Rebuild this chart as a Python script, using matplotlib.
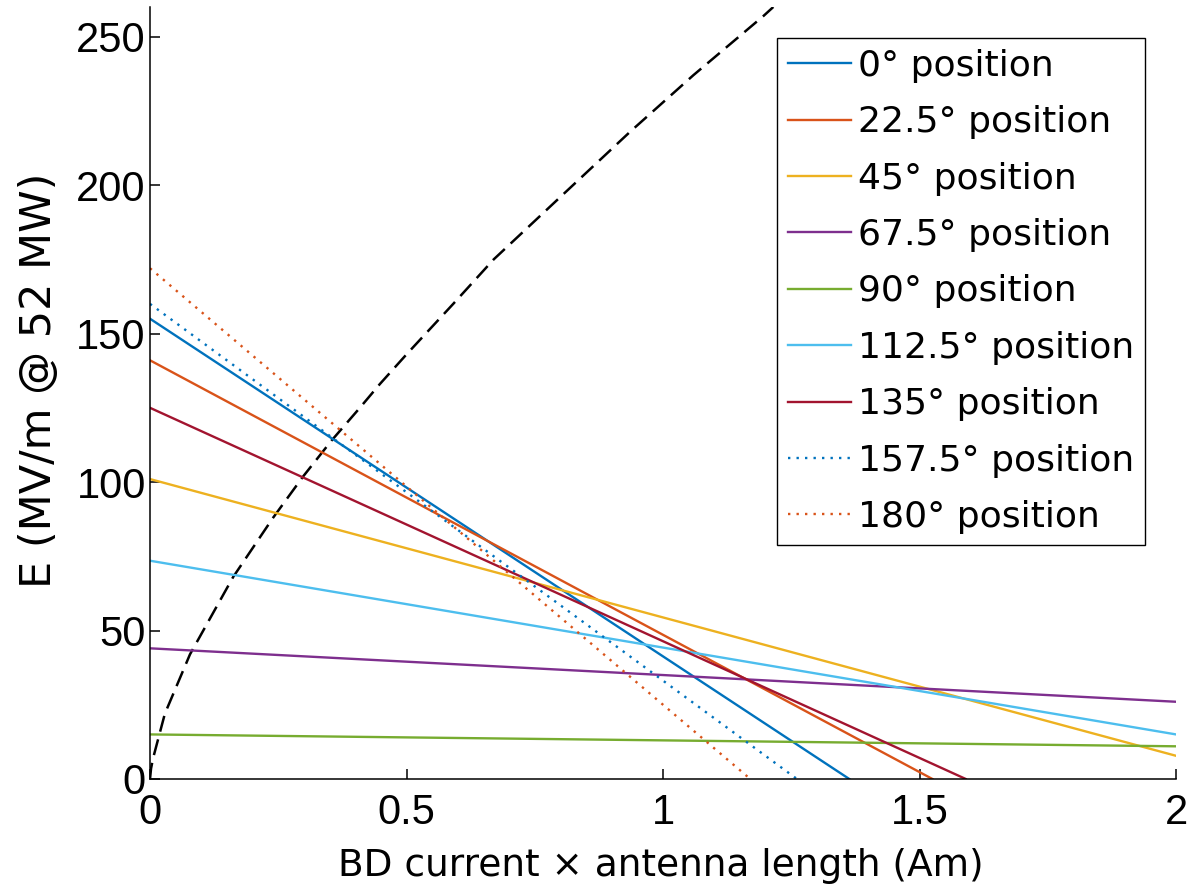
import matplotlib
matplotlib.use('Agg')
import matplotlib.pyplot as plt

# positions of the antenna (legend entries)
labels = ['0° position', '22.5° position', '45° position', '67.5° position',
          '90° position', '112.5° position', '135° position',
          '157.5° position', '180° position']

# each line: E at x = 0, and the end point
start_y = [155, 141, 101, 44, 15, 73.5, 125, 160, 172]
end_x = [1.363, 1.525, 2.0, 2.0, 2.0, 2.0, 1.59, 1.261, 1.17]
end_y = [0, 0, 7.8, 26, 11, 15, 0, 0, 0]

# breakdown threshold curve (black dashed)
curve_x = [0, 0.002, 0.006, 0.029, 0.078, 0.162, 0.240, 0.299, 0.354, 0.409,
           0.448, 0.500, 0.591, 0.670, 0.806, 0.936, 1.059, 1.196, 1.215]
curve_y = [0, 3.5, 7, 22, 42, 68, 88, 102, 114, 125,
           133, 143, 160, 175, 197, 218, 237, 257, 260]

colors = ['#0072BD', '#D95319', '#EDB120', '#7E2F8E', '#77AC30',
          '#4DBEEE', '#A2142F', '#0072BD', '#D95319']
styles = ['-'] * 7 + [(0, (1, 2.6)), (0, (1, 2.6))]


def main():
    fig = plt.figure(figsize=(12.03, 8.93), dpi=100)
    ax = fig.add_axes([0.1247, 0.1277, 0.8529, 0.8645])

    ax.plot(curve_x, curve_y, color='black', lw=1.8, dashes=(6.5, 3.2))

    for i in range(len(labels)):
        ax.plot([0, end_x[i]], [start_y[i], end_y[i]],
                color=colors[i], ls=styles[i], lw=1.7, label=labels[i])

    ax.set_xlim(0, 2)
    ax.set_ylim(0, 260)
    ax.set_xticks([0, 0.5, 1, 1.5, 2])
    ax.set_xticklabels(['0', '0.5', '1', '1.5', '2'])
    ax.set_yticks([0, 50, 100, 150, 200, 250])

    for side in ['top', 'right']:
        ax.spines[side].set_visible(False)
    for side in ['left', 'bottom']:
        ax.spines[side].set_linewidth(1.1)

    ax.tick_params(direction='in', length=7, width=1.1, labelsize=30)
    ax.tick_params(axis='x', pad=10)
    ax.tick_params(axis='y', pad=3)
    for t in ax.get_xticklabels() + ax.get_yticklabels():
        t.set_family('Liberation Sans')

    ax.set_xlabel('BD current × antenna length (Am)', fontsize=27,
                  family='DejaVu Sans')
    ax.xaxis.set_label_coords(0.498, -0.09)
    ax.set_ylabel('E (MV/m @ 52 MW)', fontsize=31, family='DejaVu Sans')
    ax.yaxis.set_label_coords(-0.088, 0.517)

    leg = ax.legend(loc='upper left', bbox_to_anchor=(777 / 1203, 1 - 38 / 893),
                    bbox_transform=fig.transFigure,
                    prop={'family': 'DejaVu Sans', 'size': 26},
                    frameon=True, fancybox=False, framealpha=1,
                    borderpad=0.3, labelspacing=0.62, handlelength=1.75,
                    handletextpad=0.2, borderaxespad=0)
    leg.get_frame().set_edgecolor('black')
    leg.get_frame().set_linewidth(1.0)

    fig.savefig('out.png', dpi=100)


main()
